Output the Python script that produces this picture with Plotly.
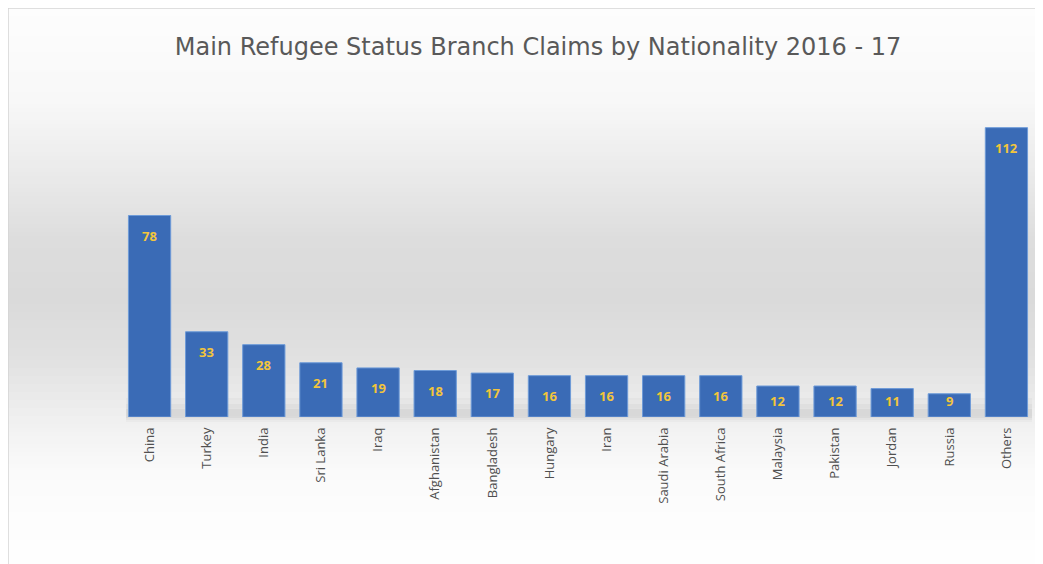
import plotly.graph_objects as go

categories = ["China", "Turkey", "India", "Sri Lanka", "Iraq", "Afghanistan", "Bangladesh",
              "Hungary", "Iran", "Saudi Arabia", "South Africa", "Malaysia", "Pakistan",
              "Jordan", "Russia", "Others"]
claims = [78, 33, 28, 21, 19, 18, 17, 16, 16, 16, 16, 12, 12, 11, 9, 112]

# the page puts the figure 8px from the top-left corner; work in page pixels
OFF = 8
PAGE_W, PAGE_H = 1043, 564
W, H = PAGE_W - OFF, PAGE_H - OFF
PLOT_L, PLOT_R, PLOT_T, PLOT_B = 121, 1035, 107, 417  # page pixels
ML, MR = PLOT_L - OFF, (PAGE_W - PLOT_R)
MT, MB = PLOT_T - OFF, PAGE_H - PLOT_B
PW = W - ML - MR
PH = H - MT - MB
Y_MAX = 120


def py2p(py):
    return (PLOT_B - py) / PH


def px2p(px):
    return (px - PLOT_L) / PW


stops = [(8, 253), (100, 248), (180, 233), (240, 221), (300, 218), (360, 225),
         (420, 240), (470, 250), (520, 253), (564, 254)]


def gray_at(y):
    for (y0, g0), (y1, g1) in zip(stops[:-1], stops[1:]):
        if y0 <= y <= y1:
            t = (y - y0) / (y1 - y0)
            return g0 + (g1 - g0) * t
    return stops[-1][1]


shapes = []
step = 4
y = 8
while y < PAGE_H:
    g = int(round(gray_at(y + step / 2)))
    shapes.append(dict(type="rect", xref="paper", yref="paper", layer="below",
                       x0=px2p(8), x1=px2p(PAGE_W + 2),
                       y0=py2p(y), y1=py2p(min(y + step, PAGE_H + 2)),
                       line=dict(width=0), fillcolor=f"rgb({g},{g},{g})"))
    y += step

for a, b, op in [(398, 422, 0.04), (404, 420, 0.05), (409, 418, 0.06)]:
    shapes.append(dict(type="rect", xref="paper", yref="paper", layer="below",
                       x0=px2p(126), x1=px2p(1032),
                       y0=py2p(b), y1=py2p(a),
                       line=dict(width=0), fillcolor=f"rgba(90,90,90,{op})"))

shapes.append(dict(type="line", xref="paper", yref="paper",
                   x0=px2p(8), x1=px2p(8), y0=py2p(8), y1=py2p(PAGE_H + 2),
                   line=dict(color="#d4d4d4", width=1.5)))
shapes.append(dict(type="line", xref="paper", yref="paper",
                   x0=px2p(8), x1=px2p(PAGE_W + 2), y0=py2p(8), y1=py2p(8),
                   line=dict(color="#d4d4d4", width=1.5)))

fig = go.Figure(go.Bar(
    x=categories, y=claims,
    marker=dict(color="#3a6bb6", line=dict(color="#6e9bd8", width=1)),
    cliponaxis=False,
))

px_per_unit = PH / Y_MAX
annotations = [dict(x=c, y=v, xref="x", yref="y", text=str(v), showarrow=False,
                    yshift=-min(20, v * px_per_unit - 16), yanchor="middle",
                    font=dict(family="Open Sans", size=13, color="#f2c53c", weight="bold"))
               for c, v in zip(categories, claims)]

fig.update_layout(
    width=W, height=H,
    margin=dict(l=ML, r=MR, t=MT, b=MB),
    paper_bgcolor="white", plot_bgcolor="rgba(0,0,0,0)",
    bargap=0.26,
    showlegend=False,
    shapes=shapes,
    annotations=annotations,
    title=dict(text="Main Refugee Status Branch Claims by Nationality 2016 - 17",
               x=px2p(538) * PW / W + ML / W, xanchor="center",
               y=1 - (47 - OFF) / H, yanchor="middle",
               font=dict(family="DejaVu Sans", size=24, color="#595959")),
    xaxis=dict(tickangle=-90, showgrid=False, showline=False, zeroline=False,
               tickfont=dict(family="Open Sans", size=13, color="#505050"),
               ticklabelstandoff=7),
    yaxis=dict(range=[0, Y_MAX], visible=False, showgrid=False),
)

fig.write_html("out.html")
